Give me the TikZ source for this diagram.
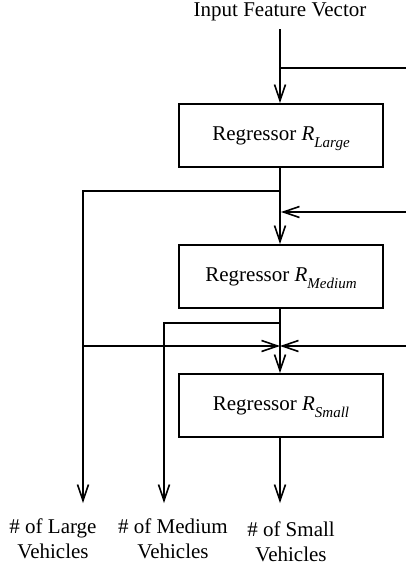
\documentclass[tikz,border=0pt]{standalone}
\usepackage{fontspec}
\setmainfont{Liberation Serif}
\usetikzlibrary{arrows.meta}
\newcommand{\regsub}[1]{\textit{R}\raisebox{-0.35em}[0pt][0pt]{\fontsize{15}{15}\selectfont\itshape #1}}
\begin{document}
\begin{tikzpicture}[x=1pt,y=-1pt,
  every node/.style={font=\fontsize{21}{25}\selectfont},
  regbox/.style={draw, line width=2pt, minimum width=204pt, minimum height=63pt, inner sep=0pt},
  conn/.style={line width=1.6pt},
  arr/.style={conn, -{Straight Barb[length=16pt,width=11pt]}},
  lbl/.style={align=center, inner sep=0pt}]
\useasboundingbox (0,0) rectangle (406,571);
\node (in) at (280,12) {Input Feature Vector};
\node[regbox] (b1) at (281,135.5) {Regressor \regsub{Large}};
\node[regbox] (b2) at (281,276.5) {Regressor \regsub{Medium}};
\node[regbox] (b3) at (281,405.5) {Regressor \regsub{Small}};
\coordinate (t0) at (280,29);
\coordinate (j0) at (280,68);
\coordinate (r0) at (406,68);
\coordinate (j1) at (280,191);
\coordinate (l1) at (83,191);
\coordinate (o1) at (83,503);
\coordinate (r1) at (406,212);
\coordinate (k1) at (281,212);
\coordinate (j2) at (280,323);
\coordinate (m1) at (164,323);
\coordinate (o2) at (164,503);
\coordinate (l2) at (83,346);
\coordinate (r2) at (406,346);
\coordinate (k2) at (280,346);
\coordinate (o3) at (280,503);
\draw[arr] (t0) -- (t0 |- b1.north);
\draw[conn] (j0) -- (r0);
\draw[arr] (b1.south -| j1) -- (j1 |- b2.north);
\draw[arr] (j1) -- (l1) -- (o1);
\draw[arr] (r1) -- (k1);
\draw[arr] (b2.south -| j2) -- (j2 |- b3.north);
\draw[arr] (j2) -- (m1) -- (o2);
\draw[arr] (l2) -- (k2);
\draw[arr] (r2) -- (k2);
\draw[arr] (b3.south -| o3) -- (o3);
\node[lbl] (lab1) at (53,539) {\# of Large\\Vehicles};
\node[lbl] (lab2) at (173,539) {\# of Medium\\Vehicles};
\node[lbl] (lab3) at (291,542) {\# of Small\\Vehicles};
\end{tikzpicture}
\end{document}
